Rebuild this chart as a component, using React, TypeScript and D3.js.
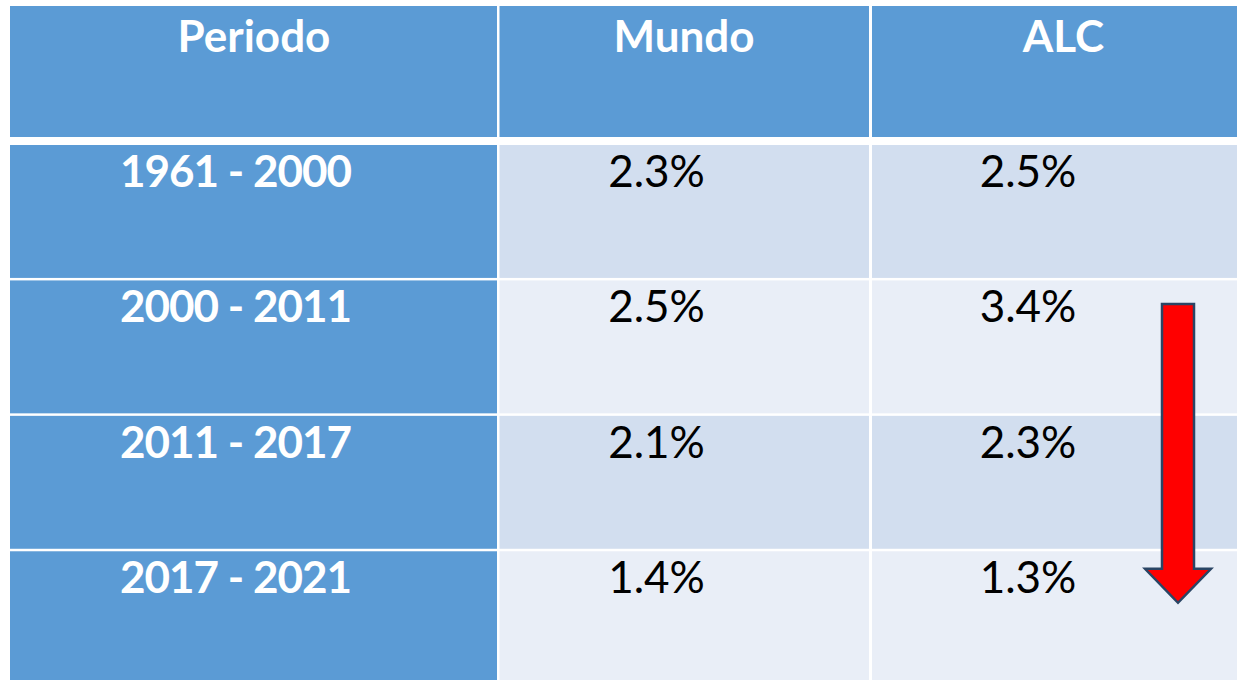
import React from "react";
import * as d3 from "d3";

const headers = ["Periodo", "Mundo", "ALC"];
const periods = ["1961 - 2000", "2000 - 2011", "2011 - 2017", "2017 - 2021"];
const mundo = [2.3, 2.5, 2.1, 1.4];
const alc = [2.5, 3.4, 2.3, 1.3];

const W = 1237;
const H = 680;
const BLUE = "#5B9BD5";
const ROW_A = "#D2DEEF";
const ROW_B = "#E9EEF7";
const FONT = "Lato, 'Open Sans', sans-serif";

// column edges [x0, x1]
const cols: [number, number][] = [
  [10, 497],
  [499.5, 869],
  [872, 1245],
];
// text centres per column for body values
const valueCx = [235.5, 656.5, 1028];
const headerCx = [254, 684, 1063.5];

export default function App() {
  const rowScale = d3
    .scaleBand<number>()
    .domain(d3.range(periods.length))
    .range([145, 145 + 134.8 * periods.length])
    .paddingInner(0.0185)
    .paddingOuter(0);

  const fmt = (v: number) => d3.format(".1f")(v) + "%";
  const rowH = rowScale.bandwidth();

  // arrow geometry anchored to ALC column and rows 2..4
  const ax = 1178;
  const shaftHalf = 16;
  const headHalf = 33;
  const top = (rowScale(1) as number) + 23.5;
  const tip = (rowScale(3) as number) + 51.5;
  const headY = tip - 34;
  const arrow = d3.path();
  arrow.moveTo(ax - shaftHalf, top);
  arrow.lineTo(ax + shaftHalf, top);
  arrow.lineTo(ax + shaftHalf, headY);
  arrow.lineTo(ax + headHalf, headY);
  arrow.lineTo(ax, tip);
  arrow.lineTo(ax - headHalf, headY);
  arrow.lineTo(ax - shaftHalf, headY);
  arrow.closePath();

  return (
    <svg
      width={W}
      height={H}
      style={{ position: "absolute", left: 0, top: 0, background: "#fff" }}
    >
      {/* header */}
      {headers.map((h, i) => (
        <g key={h}>
          <rect x={cols[i][0]} y={6} width={cols[i][1] - cols[i][0]} height={131} fill={BLUE} />
          <text
            x={headerCx[i]}
            y={52}
            textAnchor="middle"
            fill="#fff"
            fontFamily={FONT}
            fontWeight={700}
            fontSize={44}
          >
            {h}
          </text>
        </g>
      ))}
      {/* body */}
      {periods.map((p, r) => {
        const y0 = rowScale(r) as number;
        const bg = r % 2 === 0 ? ROW_A : ROW_B;
        const vals = [p, fmt(mundo[r]), fmt(alc[r])];
        return (
          <g key={p}>
            {cols.map((c, i) => (
              <rect
                key={i}
                x={c[0]}
                y={y0}
                width={c[1] - c[0]}
                height={rowH}
                fill={i === 0 ? BLUE : bg}
              />
            ))}
            {vals.map((v, i) => (
              <text
                key={i}
                x={valueCx[i]}
                y={y0 + 42}
                textAnchor="middle"
                fill={i === 0 ? "#fff" : "#000"}
                fontFamily={FONT}
                fontWeight={i === 0 ? 700 : 400}
                fontSize={44}
                letterSpacing={i === 0 ? -1 : 0}
              >
                {v}
              </text>
            ))}
          </g>
        );
      })}
      <path d={arrow.toString()} fill="#FF0000" stroke="#2A4565" strokeWidth={2.5} strokeLinejoin="miter" />
    </svg>
  );
}
